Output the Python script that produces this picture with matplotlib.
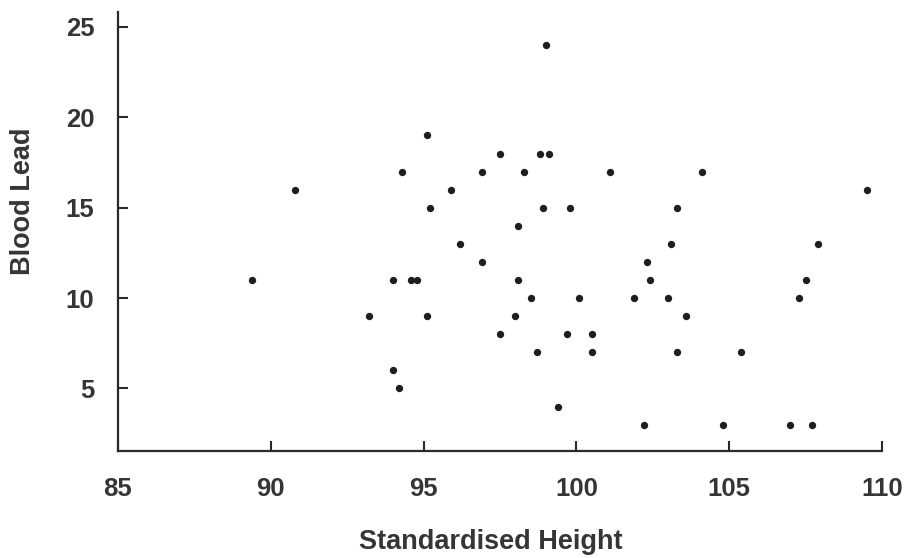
import numpy as np
import matplotlib
matplotlib.use("Agg")
import matplotlib.pyplot as plt

# standardised height vs blood lead
height = [89.4, 90.8, 93.2, 94.0, 94.0, 94.2, 94.3, 94.6, 94.8, 95.1,
          95.1, 95.2, 95.9, 96.2, 96.9, 96.9, 97.5, 97.5, 98.0, 98.1,
          98.1, 98.3, 98.5, 98.7, 98.8, 98.9, 99.0, 99.1, 99.4, 99.7,
          99.8, 100.1, 100.5, 100.5, 101.1, 101.9, 102.2, 102.3, 102.4, 103.0,
          103.1, 103.3, 103.3, 103.6, 104.1, 104.8, 105.4, 107.0, 107.3, 107.5,
          107.7, 107.9, 109.5]
lead = [11, 16, 9, 11, 6, 5, 17, 11, 11, 9,
        19, 15, 16, 13, 17, 12, 18, 8, 9, 14,
        11, 17, 10, 7, 18, 15, 24, 18, 4, 8,
        15, 10, 7, 8, 17, 10, 3, 12, 11, 10,
        13, 15, 7, 9, 17, 3, 7, 3, 10, 11,
        3, 13, 16]

xticks = [85, 90, 95, 100, 105, 110]
yticks = [5, 10, 15, 20, 25]

plt.rcParams['font.family'] = ['Liberation Sans', 'DejaVu Sans']
ink = '#2a2a2a'
txt = '#353535'

fig = plt.figure(figsize=(9.09, 5.58), dpi=100)
ax = fig.add_axes([0.1298, 0.1918, 0.8405, 0.7867])

ax.scatter(height, lead, s=28, color='#1e1e1e', linewidths=0, zorder=3)

ax.set_xlim(85, 110)
ax.set_ylim(1.54, 25.83)
ax.set_xticks(xticks)
ax.set_yticks(yticks)

for side in ['top', 'right']:
    ax.spines[side].set_visible(False)
for side in ['left', 'bottom']:
    ax.spines[side].set_linewidth(1.6)
    ax.spines[side].set_color(ink)

ax.tick_params(axis='x', direction='in', length=7, width=1.5, color=ink,
               labelsize=18.5, labelcolor=txt, pad=19)
ax.tick_params(axis='y', direction='in', length=7, width=1.5, color=ink,
               labelsize=18.5, labelcolor=txt, pad=17)
for lab in ax.get_xticklabels() + ax.get_yticklabels():
    lab.set_fontweight('bold')

ax.set_xlabel('Standardised Height', fontsize=19.5, fontweight='bold', color=txt)
ax.set_ylabel('Blood Lead', fontsize=19.5, fontweight='bold', color=txt)
ax.xaxis.set_label_coords(0.488, -0.178)
ax.yaxis.set_label_coords(-0.107, 0.57)

fig.savefig('out.png', dpi=100, facecolor='white')
